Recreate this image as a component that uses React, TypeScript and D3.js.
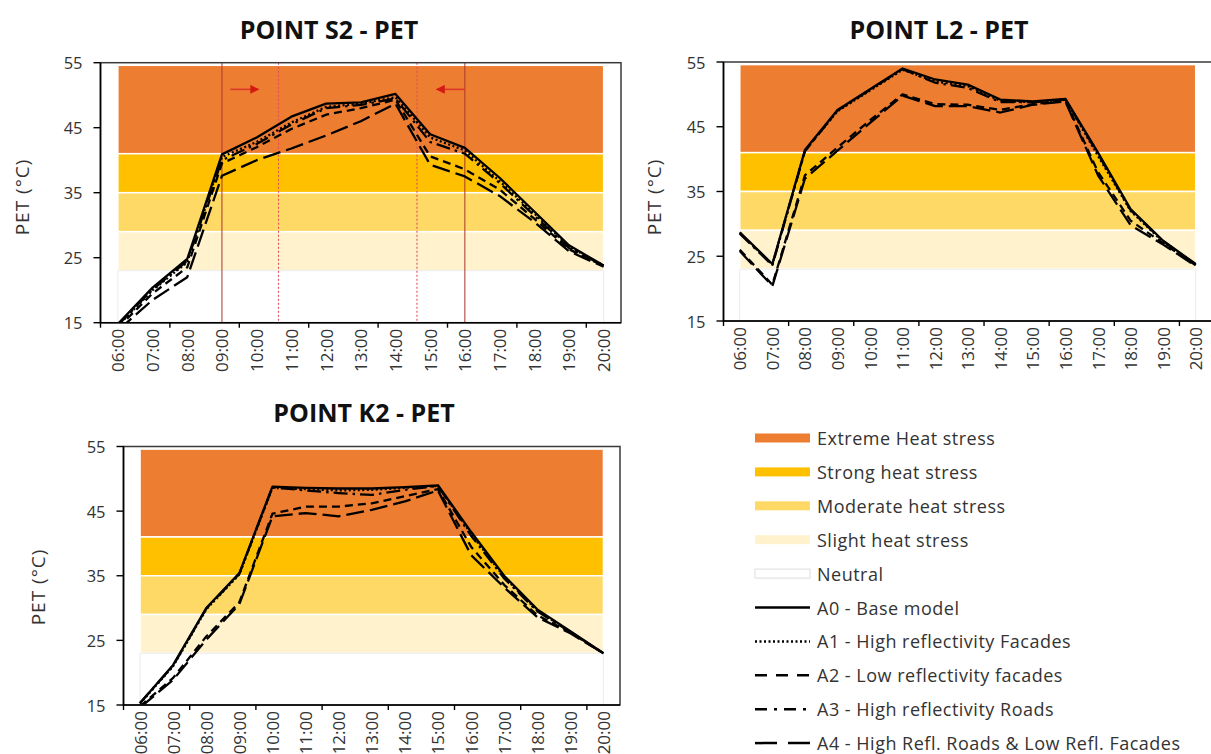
import React from "react";
import * as d3 from "d3";

// ---------- DATA ----------
const hours = ["06:00","07:00","08:00","09:00","10:00","11:00","12:00","13:00","14:00","15:00","16:00","17:00","18:00","19:00","20:00"];
const yTicks = [15, 25, 35, 45, 55];

const stressLevels = ["Extreme Heat stress", "Strong heat stress", "Moderate heat stress", "Slight heat stress", "Neutral"];
const stressLower = [41, 35, 29, 23, 15];
const stressUpper = [54.6, 41, 35, 29, 23];

const scenarioNames = [
  "A0 - Base model",
  "A1 - High reflectivity Facades",
  "A2 - Low reflectivity facades",
  "A3 - High reflectivity Roads",
  "A4 - High Refl. Roads & Low Refl. Facades",
];

// POINT S2
const s2A0 = [14.8, 20.4, 24.8, 40.9, 43.5, 46.7, 48.7, 48.9, 50.2, 44.0, 41.9, 37.3, 32.1, 26.9, 23.8];
const s2A1 = [14.5, 20.0, 24.3, 40.5, 42.8, 45.8, 48.2, 48.7, 49.7, 43.5, 41.5, 36.8, 31.8, 26.7, 23.8];
const s2A2 = [14.2, 19.5, 23.5, 39.5, 42.0, 44.8, 47.0, 48.0, 49.3, 40.6, 38.6, 35.5, 31.0, 26.3, 23.7];
const s2A3 = [14.6, 20.1, 24.5, 40.0, 42.5, 45.5, 48.0, 48.5, 49.5, 42.8, 41.0, 36.5, 31.5, 26.5, 23.8];
const s2A4 = [13.8, 18.5, 22.0, 37.6, 40.0, 41.8, 43.8, 46.0, 48.7, 39.3, 37.5, 34.5, 30.5, 26.0, 23.6];

// POINT L2
const l2A0 = [28.7, 23.8, 41.4, 47.6, 50.8, 54.0, 52.3, 51.5, 49.2, 48.9, 49.3, 41.0, 32.3, 27.4, 23.8];
const l2A1 = [28.6, 23.7, 41.3, 47.4, 50.6, 53.8, 52.0, 51.3, 49.0, 48.8, 49.2, 40.5, 32.0, 27.2, 23.7];
const l2A2 = [26.0, 20.6, 37.5, 41.8, 46.0, 50.0, 48.5, 48.4, 47.6, 48.5, 49.0, 38.0, 30.5, 27.0, 23.6];
const l2A3 = [28.5, 23.6, 41.2, 47.5, 50.7, 53.9, 51.8, 51.0, 48.8, 48.8, 49.2, 40.8, 32.1, 27.3, 23.7];
const l2A4 = [25.8, 20.4, 37.0, 41.3, 45.6, 49.8, 48.2, 48.2, 47.2, 48.4, 48.9, 37.5, 29.8, 26.8, 23.5];

// POINT K2
const k2A0 = [15.3, 21.2, 30.0, 35.4, 48.8, 48.6, 48.5, 48.5, 48.7, 49.0, 41.8, 35.0, 29.8, 26.4, 23.0];
const k2A1 = [15.2, 21.0, 29.8, 35.2, 48.6, 48.4, 48.2, 48.3, 48.6, 48.9, 41.5, 34.8, 29.6, 26.3, 23.0];
const k2A2 = [14.8, 19.2, 25.6, 30.9, 44.6, 45.7, 45.7, 46.2, 47.3, 48.4, 39.5, 33.6, 28.9, 26.2, 23.0];
const k2A3 = [15.3, 21.1, 29.9, 35.3, 48.7, 48.2, 47.8, 47.5, 48.3, 48.9, 41.2, 34.6, 29.5, 26.3, 23.0];
const k2A4 = [14.6, 18.9, 25.1, 30.6, 44.2, 44.7, 44.2, 45.2, 46.5, 48.2, 38.2, 33.2, 28.6, 26.1, 23.0];

// S2 markers (decimal hours)
const s2MarkerSolid = [9, 16];
const s2MarkerDotted = [10.63, 14.62];
const s2ArrowFrom = [9.24, 16.0];
const s2ArrowTo = [10.05, 15.19];
const s2ArrowLevel = 50.9;

// ---------- STYLES ----------
const FONT = "'Open Sans', 'Noto Sans', 'DejaVu Sans', sans-serif";
const bandColors = ["#ED7D31", "#FFC000", "#FFD966", "#FFF2CC", "#FFFFFF"];
const dashes: (string | undefined)[] = [undefined, "2,2.5", "8,5", "14,5,2.5,5", "18,6"];

type Props = {
  id: string;
  title: string;
  titleX: number;
  titleY: number;
  x0: number;
  x1: number;
  yTop: number;
  yBot: number;
  ylabX: number;
  ylabY: number;
  series: number[][];
  showMarkers?: boolean;
};

function Chart(p: Props) {
  const x = d3.scaleLinear().domain([-0.5, hours.length - 0.5]).range([p.x0, p.x1]);
  const y = d3.scaleLinear().domain([15, 55]).range([p.yBot, p.yTop]);
  const xh = (h: number) => x(h - 6);
  const line = d3
    .line<number>()
    .x((_, i) => x(i))
    .y((d) => y(d));
  const tickBounds = d3.range(0, hours.length, 2).map((b) => b - 0.5);
  const clip = `clip-${p.id}`;

  return (
    <g>
      <defs>
        <clipPath id={clip}>
          <rect x={p.x0} y={p.yTop} width={p.x1 - p.x0} height={p.yBot - p.yTop} />
        </clipPath>
        <marker id={`arrow-${p.id}`} viewBox="0 0 10 10" refX="9" refY="5" markerWidth="9" markerHeight="9" markerUnits="userSpaceOnUse" orient="auto">
          <path d="M0,0 L10,5 L0,10 z" fill="#D41A10" />
        </marker>
      </defs>
      <text x={p.titleX} y={p.titleY} textAnchor="middle" fontFamily={FONT} fontWeight="bold" fontSize={25} fill="#111">
        {p.title}
      </text>
      {/* stress bands */}
      {stressLevels.map((s, i) => (
        <rect
          key={s}
          x={x(0)}
          y={y(stressUpper[i])}
          width={x(hours.length - 1) - x(0)}
          height={y(stressLower[i]) - y(stressUpper[i])}
          fill={bandColors[i]}
          stroke={i === 4 ? "#ECECEC" : "#FFFFFF"}
          strokeWidth={i === 4 ? 1 : 1.5}
        />
      ))}
      {/* markers */}
      {p.showMarkers && (
        <g>
          {s2MarkerSolid.map((h) => (
            <line key={`s${h}`} x1={xh(h)} x2={xh(h)} y1={p.yTop} y2={p.yBot} stroke="#A8382C" strokeWidth={1} />
          ))}
          {s2MarkerDotted.map((h) => (
            <line key={`d${h}`} x1={xh(h)} x2={xh(h)} y1={p.yTop} y2={p.yBot} stroke="#E0505A" strokeWidth={1.1} strokeDasharray="2,2" />
          ))}
          {s2ArrowFrom.map((h, i) => (
            <line
              key={`a${i}`}
              x1={xh(h)}
              x2={xh(s2ArrowTo[i])}
              y1={y(s2ArrowLevel)}
              y2={y(s2ArrowLevel)}
              stroke="#D9352A"
              strokeWidth={1.5}
              markerEnd={`url(#arrow-${p.id})`}
            />
          ))}
        </g>
      )}
      {/* series lines */}
      <g clipPath={`url(#${clip})`}>
        {p.series.map((s, i) => (
          <path key={i} d={line(s) || ""} fill="none" stroke="#000" strokeWidth={2.3} strokeDasharray={dashes[i]} strokeLinejoin="round" />
        ))}
      </g>
      {/* frame */}
      <rect x={p.x0} y={p.yTop} width={p.x1 - p.x0} height={p.yBot - p.yTop} fill="none" stroke="#3A3A3A" strokeWidth={1.5} />
      <line x1={p.x0} x2={p.x0} y1={p.yTop} y2={p.yBot} stroke="#000" strokeWidth={1.6} />
      <line x1={p.x0} x2={p.x1} y1={p.yBot} y2={p.yBot} stroke="#000" strokeWidth={1.6} />
      {/* y ticks */}
      {yTicks.map((t) => (
        <g key={t}>
          <line x1={p.x0 - 7} x2={p.x0} y1={y(t)} y2={y(t)} stroke="#000" strokeWidth={1.4} />
          <text x={p.x0 - 18} y={y(t)} textAnchor="end" dominantBaseline="central" fontFamily={FONT} fontSize={16.5} fill="#333">
            {t}
          </text>
        </g>
      ))}
      {/* x ticks */}
      {tickBounds.map((b) => (
        <line key={b} x1={x(b)} x2={x(b)} y1={p.yBot} y2={p.yBot + 5} stroke="#000" strokeWidth={1.4} />
      ))}
      {hours.map((h, i) => (
        <text
          key={h}
          transform={`translate(${x(i)},${p.yBot + 6}) rotate(-90)`}
          textAnchor="end"
          dominantBaseline="central"
          fontFamily={FONT}
          fontSize={17}
          fill="#333"
        >
          {h}
        </text>
      ))}
      <text
        transform={`translate(${p.ylabX},${p.ylabY}) rotate(-90)`}
        textAnchor="middle"
        dominantBaseline="central"
        fontFamily={FONT}
        fontSize={19}
        letterSpacing={1}
        fill="#333"
      >
        PET (°C)
      </text>
    </g>
  );
}

function Legend() {
  const rowY = (i: number) => 438 + i * 33.9;
  const sx0 = 755;
  const sx1 = 810;
  return (
    <g>
      {stressLevels.map((s, i) => (
        <g key={s}>
          <rect
            x={sx0}
            y={rowY(i) - 4.5}
            width={sx1 - sx0}
            height={9}
            fill={bandColors[i]}
            stroke={i === 4 ? "#DDDDDD" : "none"}
            strokeWidth={1}
          />
          <text x={817} y={rowY(i)} dominantBaseline="central" fontFamily={FONT} fontSize={18} letterSpacing={0.5} fill="#333">
            {s}
          </text>
        </g>
      ))}
      {scenarioNames.map((s, i) => (
        <g key={s}>
          <line
            x1={sx0}
            x2={sx1}
            y1={rowY(i + 5)}
            y2={rowY(i + 5)}
            stroke="#000"
            strokeWidth={2.5}
            strokeDasharray={i === 0 ? undefined : ["2,2.5", "12,9", "12,7,3,7", "22,11"][i - 1]}
          />
          <text x={817} y={rowY(i + 5)} dominantBaseline="central" fontFamily={FONT} fontSize={18} letterSpacing={0.5} fill="#333">
            {s}
          </text>
        </g>
      ))}
    </g>
  );
}

export default function App() {
  return (
    <svg
      width={1211}
      height={754}
      style={{ position: "absolute", left: 0, top: 0, background: "#fff" }}
      xmlns="http://www.w3.org/2000/svg"
    >
      <rect x={0} y={0} width={1211} height={754} fill="#fff" />
      <Chart
        id="s2"
        title="POINT S2 - PET"
        titleX={329}
        titleY={39}
        x0={100.5}
        x1={621}
        yTop={62.7}
        yBot={322.7}
        ylabX={22}
        ylabY={197}
        series={[s2A0, s2A1, s2A2, s2A3, s2A4]}
        showMarkers
      />
      <Chart
        id="l2"
        title="POINT L2 - PET"
        titleX={939}
        titleY={39}
        x0={723.5}
        x1={1212}
        yTop={62}
        yBot={321}
        ylabX={654}
        ylabY={197}
        series={[l2A0, l2A1, l2A2, l2A3, l2A4]}
      />
      <Chart
        id="k2"
        title="POINT K2 - PET"
        titleX={364}
        titleY={422}
        x0={123.5}
        x1={620}
        yTop={446.5}
        yBot={705}
        ylabX={37.5}
        ylabY={587}
        series={[k2A0, k2A1, k2A2, k2A3, k2A4]}
      />
      <Legend />
    </svg>
  );
}
